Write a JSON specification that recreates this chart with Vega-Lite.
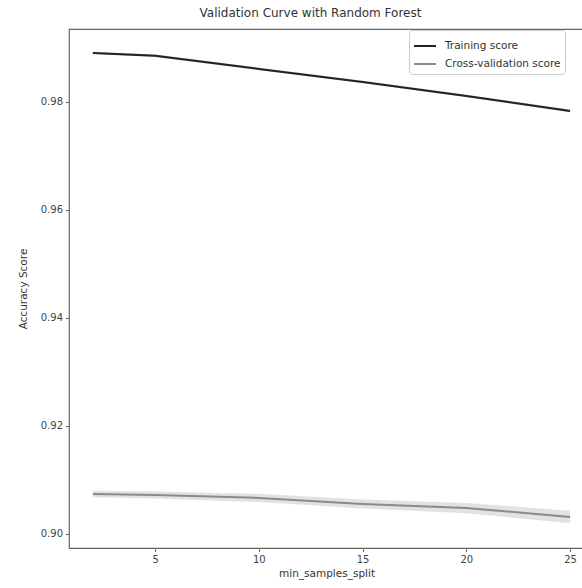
{
  "$schema": "https://vega.github.io/schema/vega-lite/v6.json",
  "autosize": {"type": "none"},
  "width": 515,
  "height": 519,
  "padding": {"left": 69, "top": 29, "right": 0, "bottom": 40},
  "background": "white",
  "title": {"text": "Validation Curve with Random Forest", "fontSize": 12, "font": "DejaVu Sans", "fontWeight": "normal", "color": "#333", "anchor": "middle", "offset": 9, "dx": -16},
  "config": {
    "font": "DejaVu Sans",
    "view": {"stroke": "#666", "strokeWidth": 1.2},
    "axis": {"grid": false, "domain": false, "tickColor": "#666", "tickSize": 3.5, "labelFontSize": 10, "labelColor": "#444", "titleFontSize": 10.5, "titleColor": "#333", "titleFontWeight": "normal", "labelPadding": 3}
  },
  "data": {"values": [
    {"x": 2, "series": "Training score", "mean": 0.98907, "lo": 0.98885, "hi": 0.98929},
    {"x": 5, "series": "Training score", "mean": 0.98855, "lo": 0.98833, "hi": 0.98877},
    {"x": 10, "series": "Training score", "mean": 0.98611, "lo": 0.98589, "hi": 0.98633},
    {"x": 15, "series": "Training score", "mean": 0.98370, "lo": 0.98348, "hi": 0.98392},
    {"x": 20, "series": "Training score", "mean": 0.98111, "lo": 0.98089, "hi": 0.98133},
    {"x": 25, "series": "Training score", "mean": 0.97833, "lo": 0.97808, "hi": 0.97858},
    {"x": 2, "series": "Cross-validation score", "mean": 0.90741, "lo": 0.90680, "hi": 0.90800},
    {"x": 5, "series": "Cross-validation score", "mean": 0.90720, "lo": 0.90655, "hi": 0.90785},
    {"x": 10, "series": "Cross-validation score", "mean": 0.90667, "lo": 0.90590, "hi": 0.90745},
    {"x": 15, "series": "Cross-validation score", "mean": 0.90556, "lo": 0.90470, "hi": 0.90640},
    {"x": 20, "series": "Cross-validation score", "mean": 0.90481, "lo": 0.90385, "hi": 0.90575},
    {"x": 25, "series": "Cross-validation score", "mean": 0.90315, "lo": 0.90200, "hi": 0.90430}
  ]},
  "encoding": {
    "x": {"field": "x", "type": "quantitative", "title": "min_samples_split",
      "scale": {"domain": [0.85, 25.67], "nice": false, "zero": false},
      "axis": {"values": [5, 10, 15, 20, 25], "titlePadding": 4}},
    "color": {"field": "series", "type": "nominal",
      "scale": {"domain": ["Training score", "Cross-validation score"], "range": ["#222222", "#8a8a8a"]},
      "legend": {"title": null, "orient": "none", "legendX": 340, "legendY": 1, "symbolType": "stroke", "symbolSize": 484, "symbolStrokeWidth": 2, "symbolOpacity": 1, "labelFontSize": 10.5, "labelColor": "#333", "strokeColor": "#ccc", "fillColor": "white", "padding": 4, "cornerRadius": 3, "rowPadding": -4, "labelLimit": 300, "labelOffset": 8}}
  },
  "layer": [
    {
      "mark": {"type": "area", "opacity": 0.25},
      "encoding": {
        "y": {"field": "lo", "type": "quantitative"},
        "y2": {"field": "hi"}
      }
    },
    {
      "mark": {"type": "line", "strokeWidth": 2},
      "encoding": {
        "y": {"field": "mean", "type": "quantitative", "title": "Accuracy Score",
          "scale": {"domain": [0.8974, 0.9935], "nice": false, "zero": false},
          "axis": {"values": [0.90, 0.92, 0.94, 0.96, 0.98], "format": ".2f", "titlePadding": 12}}
      }
    }
  ]
}
